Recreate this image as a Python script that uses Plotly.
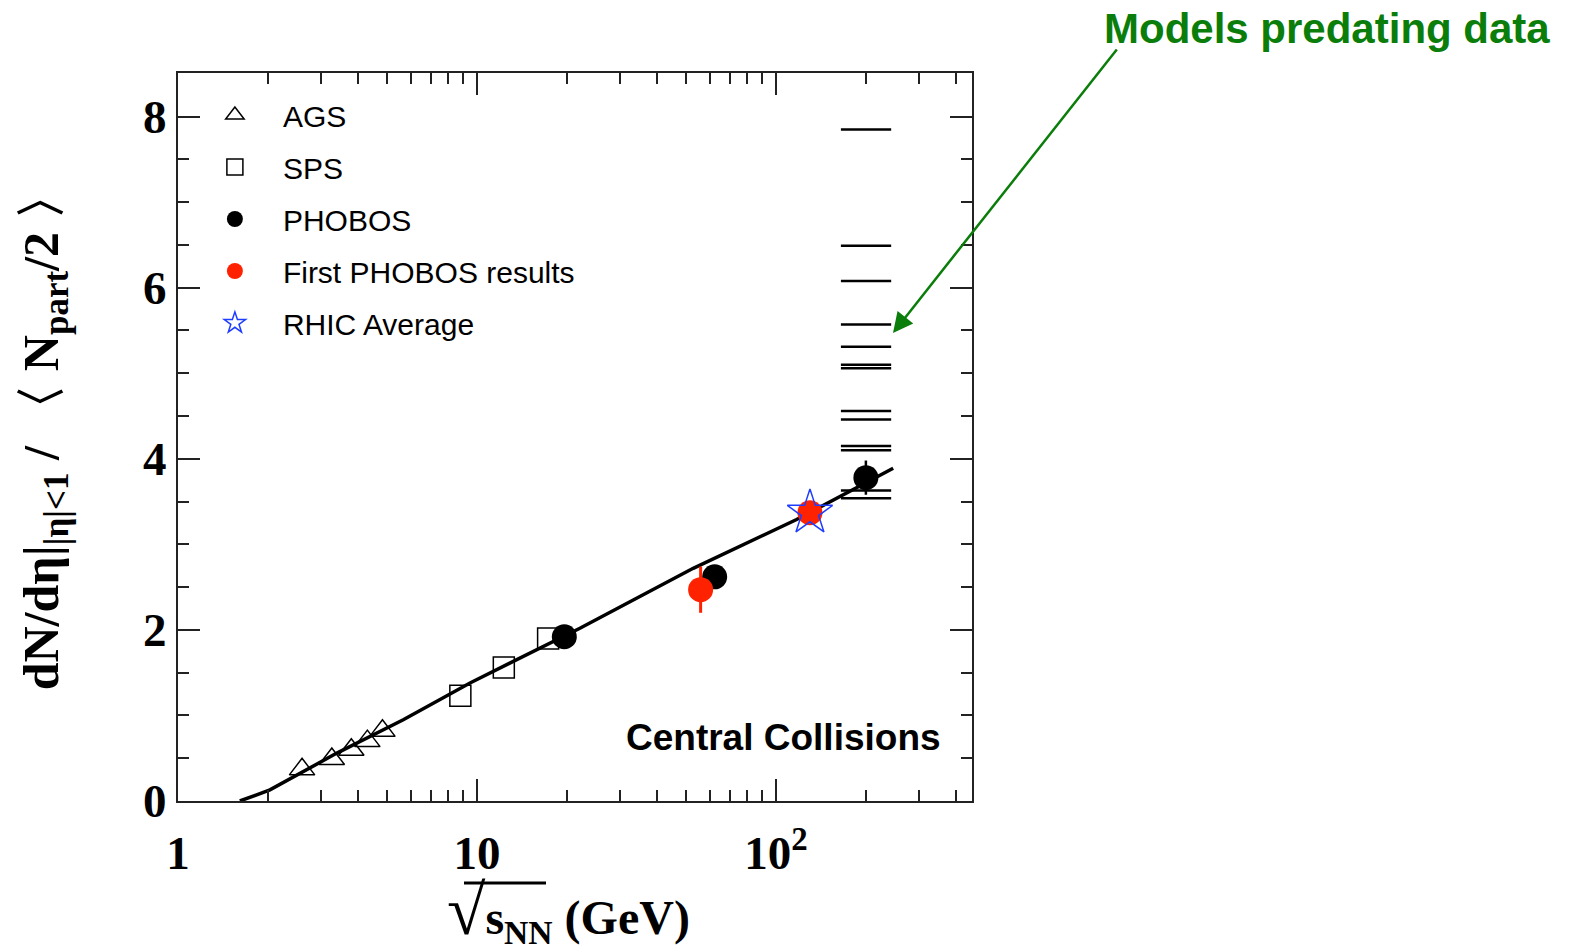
import plotly.graph_objects as go

# ---------------- data ----------------
AGS_X = [2.6, 3.27, 3.8, 4.3, 4.83]
AGS_Y = [0.37, 0.49, 0.60, 0.70, 0.82]

SPS_X = [8.8, 12.3, 17.3]
SPS_Y = [1.23, 1.56, 1.90]

PHOBOS_X = [19.6, 62.4, 200]
PHOBOS_Y = [1.92, 2.62, 3.78]
PHOBOS_ERR = [0.10, 0.12, 0.20]

FIRST_X = [56, 130]
FIRST_Y = [2.47, 3.37]
FIRST_ERR = [0.27, 0.10]

RHIC_X = [130]
RHIC_Y = [3.37]

FIT_X = [1.61, 2.03, 3.40, 5.67, 9.48, 15.8, 22.1, 52.9, 117.3, 246.8]
FIT_Y = [0.0, 0.13, 0.56, 0.95, 1.38, 1.77, 2.02, 2.72, 3.29, 3.89]

MODEL_VALUES = [7.85, 6.49, 6.08, 5.57, 5.31, 5.10, 5.06, 4.56, 4.46, 4.15, 4.10, 3.63, 3.54]
MODEL_X_SPAN = [165, 243]

X_TICKVALS = [1, 10, 100]
X_TICKTEXT = ["1", "10", "10<sup>2</sup>"]
X_MINOR = [2, 3, 4, 5, 6, 7, 8, 9, 20, 30, 40, 50, 60, 70, 80, 90, 200, 300, 400]
Y_TICKVALS = [0, 2, 4, 6, 8]

# ---------------- figure ----------------
SERIF = "Liberation Serif, Times New Roman, serif"
SANS = "Liberation Sans, Arial, sans-serif"

fig = go.Figure()

# fit line
fig.add_trace(go.Scatter(x=FIT_X, y=FIT_Y, mode="lines",
                         line=dict(color="black", width=3.5),
                         showlegend=False, hoverinfo="skip"))

# model predictions (short horizontal lines)
mx, my = [], []
for v in MODEL_VALUES:
    mx += [MODEL_X_SPAN[0], MODEL_X_SPAN[1], None]
    my += [v, v, None]
fig.add_trace(go.Scatter(x=mx, y=my, mode="lines",
                         line=dict(color="black", width=2.5),
                         showlegend=False, hoverinfo="skip"))

fig.add_trace(go.Scatter(x=AGS_X, y=AGS_Y, mode="markers", name="AGS",
                         legendgroup="a",
                         marker=dict(symbol="triangle-up-open", size=22,
                                     color="black", line=dict(width=1.5, color="black"))))
fig.add_trace(go.Scatter(x=SPS_X, y=SPS_Y, mode="markers", name="SPS",
                         legendgroup="b",
                         marker=dict(symbol="square-open", size=21,
                                     color="black", line=dict(width=1.5, color="black"))))
fig.add_trace(go.Scatter(x=PHOBOS_X, y=PHOBOS_Y, mode="markers", name="PHOBOS",
                         legendgroup="c",
                         error_y=dict(type="data", array=PHOBOS_ERR, color="black",
                                      thickness=2.5, width=0),
                         marker=dict(symbol="circle", size=25, color="black")))
fig.add_trace(go.Scatter(x=FIRST_X, y=FIRST_Y, mode="markers", name="First PHOBOS results",
                         legendgroup="d",
                         error_y=dict(type="data", array=FIRST_ERR, color="#ff2200",
                                      thickness=3, width=0),
                         marker=dict(symbol="circle", size=25, color="#ff2200")))
fig.add_trace(go.Scatter(x=RHIC_X, y=RHIC_Y, mode="markers", name="RHIC Average",
                         legendgroup="e",
                         marker=dict(symbol="star-open", size=34, color="#1f3dff",
                                     line=dict(width=1.5, color="#1f3dff"))))

fig.update_xaxes(type="log", range=[0, 2.656],
                 tickvals=X_TICKVALS, ticktext=X_TICKTEXT,
                 ticks="inside", ticklen=22, tickwidth=2, tickcolor="#222",
                 minor=dict(tickvals=X_MINOR, ticks="inside", ticklen=11,
                            tickwidth=2, tickcolor="#222", showgrid=False),
                 showline=True, linewidth=2, linecolor="#222", mirror="ticks",
                 showgrid=False, zeroline=False,
                 tickfont=dict(family=SERIF, size=47, color="black", weight="bold"),
                 ticklabelstandoff=10)
fig.update_yaxes(range=[0, 8.51],
                 tickvals=Y_TICKVALS,
                 ticks="inside", ticklen=22, tickwidth=2, tickcolor="#222",
                 minor=dict(dtick=0.5, ticks="inside", ticklen=11,
                            tickwidth=2, tickcolor="#222", showgrid=False),
                 showline=True, linewidth=2, linecolor="#222", mirror="ticks",
                 showgrid=False, zeroline=False,
                 tickfont=dict(family=SERIF, size=47, color="black", weight="bold"),
                 ticklabelstandoff=0)

fig.update_layout(
    width=1570, height=952,
    margin=dict(l=178, r=598, t=73, b=151, autoexpand=False),
    plot_bgcolor="white", paper_bgcolor="white",
    showlegend=True,
    legend=dict(x=0.0112, y=0.978, xanchor="left", yanchor="top",
                bgcolor="rgba(0,0,0,0)", borderwidth=0,
                font=dict(family=SANS, size=30, color="black"),
                itemwidth=86, tracegroupgap=10),
    font=dict(family=SANS, color="black"),
)

# axis titles
fig.add_annotation(xref="paper", yref="paper", x=-0.168, y=0.51,
                   text="<b>dN/dη|<sub>|η|&lt;1</sub> / 〈 N<sub>part</sub>/2 〉</b>",
                   textangle=-90, showarrow=False, xanchor="center", yanchor="middle",
                   font=dict(family=SERIF, size=50, color="black"))
fig.add_annotation(xref="paper", yref="paper", x=(568 - 178) / 794, y=(801 - 912) / 728,
                   text="<b><span style='font-size:70px'>√</span>s<sub>NN</sub> (GeV)</b>",
                   showarrow=False, xanchor="center", yanchor="middle",
                   font=dict(family=SERIF, size=48, color="black"))
# overline of the square root
fig.add_shape(type="line", xref="paper", yref="paper",
              x0=(464 - 178) / 794, x1=(546 - 178) / 794,
              y0=(801 - 883) / 728, y1=(801 - 883) / 728,
              line=dict(color="black", width=3))

# in-plot label
fig.add_annotation(xref="paper", yref="paper", x=(783 - 178) / 794, y=(801 - 737) / 728,
                   text="<b>Central Collisions</b>", showarrow=False,
                   xanchor="center", yanchor="middle",
                   font=dict(family=SANS, size=37, color="black"))

# green note and arrow
GREEN = "#0a7d0a"
fig.add_annotation(xref="paper", yref="paper", x=(1327 - 178) / 794, y=(801 - 28) / 728,
                   text="<b>Models predating data</b>", showarrow=False,
                   xanchor="center", yanchor="middle",
                   font=dict(family=SANS, size=42, color=GREEN))
fig.add_annotation(xref="paper", yref="paper", x=(893 - 178) / 794, y=(801 - 333) / 728,
                   text="", showarrow=True, ax=225, ay=-285,
                   arrowhead=2, arrowsize=1.6, arrowwidth=2.5, arrowcolor=GREEN)

fig.write_html("out.html")
